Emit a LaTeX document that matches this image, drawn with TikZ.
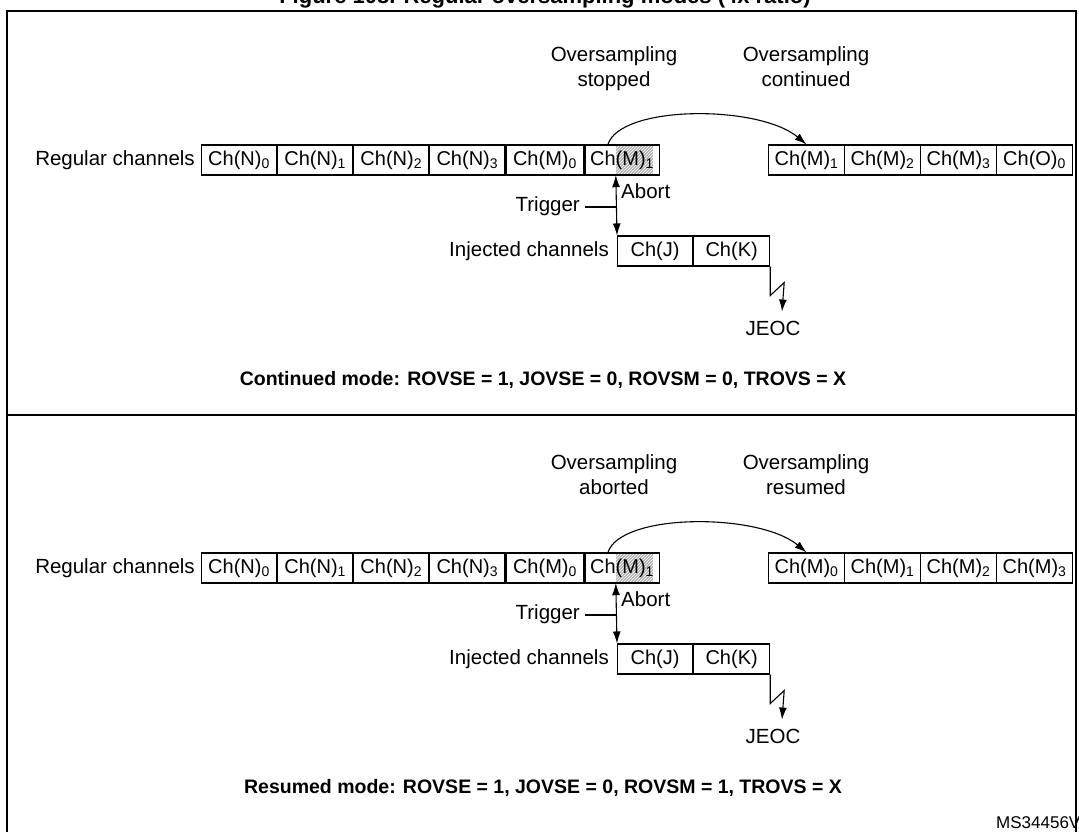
\documentclass[tikz,border=0pt]{standalone}
\usepackage{fontspec}
\setmainfont{Liberation Sans}
\usetikzlibrary{arrows.meta,patterns}
\begin{document}
\begin{tikzpicture}[x=1pt,y=-1pt,
  cell/.style={draw,line width=1.1pt,inner sep=0pt,minimum height=30pt,anchor=west,font=\fontsize{20}{22}\selectfont},
  lbl/.style={inner sep=0pt,font=\fontsize{20.5}{25}\selectfont},
  hatch/.style={fill=gray!60,inner sep=0pt,minimum width=37pt,minimum height=30pt},
  conn/.style={line width=1.1pt},
  tip/.style={-{Latex[length=12pt,width=8pt]}},
  mode/.style={inner sep=0pt,font=\bfseries\fontsize{19.5}{22}\selectfont}]
\useasboundingbox (0,0) rectangle (1079,831);
\clip (0,0) rectangle (1079,831);
\node[inner sep=0pt,font=\bfseries\fontsize{22}{24}\selectfont] (title) at (545,-2) {Figure 108. Regular oversampling modes (4x ratio)};
\draw[line width=1.8pt] (7,900) -- (7,11) -- (1076,11) -- (1076,900);
\draw[line width=1.5pt] (7,415) -- (1076,415);
\node[inner sep=0pt,anchor=west,font=\fontsize{17}{19}\selectfont] (ms) at (996,823) {MS34456V1};
\newcommand\mypanel[6]{%
\begin{scope}[yshift=-#2pt]
 \node[lbl,anchor=east] (reg#1) at (195,160) {Regular channels};
 \node[hatch] (hm#1) at (634.5,160) {};
 \fill[pattern=north east lines,pattern color=white] (hm#1.south west) rectangle (hm#1.north east);
 \node[cell,minimum width=75pt] (n0#1) at (201,160) {Ch(N)\textsubscript{0}};
 \node[cell,minimum width=75pt] (n1#1) at (n0#1.east) {Ch(N)\textsubscript{1}};
 \node[cell,minimum width=75pt] (n2#1) at (n1#1.east) {Ch(N)\textsubscript{2}};
 \node[cell,minimum width=75pt] (n3#1) at (n2#1.east) {Ch(N)\textsubscript{3}};
 \node[cell,minimum width=78pt] (m0#1) at (n3#1.east) {Ch(M)\textsubscript{0}};
 \node[cell,minimum width=74pt] (m1#1) at (m0#1.east) {Ch(M)\textsubscript{1}};
 \foreach \t [count=\i] in {#5} {
   \node[cell,minimum width=76pt] (r\i#1) at (692+76*\i,160) {\t};
 }
 \node[lbl,align=center,anchor=north] (os#1) at (614,46) {Oversampling\\#3};
 \node[lbl,align=center,anchor=north] (oc#1) at (806,46) {Oversampling\\#4};
 \node[cell,minimum width=75pt] (j#1) at (617,251) {Ch(J)};
 \node[cell,minimum width=76pt] (k#1) at (j#1.east) {Ch(K)};
 \node[lbl,anchor=east] (inj#1) at (609,251) {Injected channels};
 \node[lbl,anchor=east] (trl#1) at (580,206) {Trigger};
 \node[lbl,anchor=west] (ab#1) at (621,191) {Abort};
 \node[lbl] (jeoc#1) at (773,328) {JEOC};
 \coordinate (tr#1) at (585,207);
 \draw[conn,{Latex[length=12pt,width=8pt]}-{Latex[length=12pt,width=8pt]}] (hm#1.south west) -- (j#1.north west);
 \draw[conn] (tr#1) -- (tr#1 -| j#1.west);
 \draw[conn,tip] (k#1.south east) -- ++(0,29) -- ++(14,-13) -- ([xshift=9pt,yshift=9pt]jeoc#1.north);
 \draw[conn,tip] ([xshift=-8pt]hm#1.north west) .. controls +(12,-40) and +(-48,-40) .. (r1#1.north);
 \node[mode] (mode#1) at (543,380) {#6};
\end{scope}}
\mypanel{a}{0}{stopped}{continued}{Ch(M)\textsubscript{1},Ch(M)\textsubscript{2},Ch(M)\textsubscript{3},Ch(O)\textsubscript{0}}{Continued mode: ROVSE = 1, JOVSE = 0, ROVSM = 0, TROVS = X}
\mypanel{b}{408}{aborted}{resumed}{Ch(M)\textsubscript{0},Ch(M)\textsubscript{1},Ch(M)\textsubscript{2},Ch(M)\textsubscript{3}}{Resumed mode: ROVSE = 1, JOVSE = 0, ROVSM = 1, TROVS = X}
\end{tikzpicture}
\end{document}
